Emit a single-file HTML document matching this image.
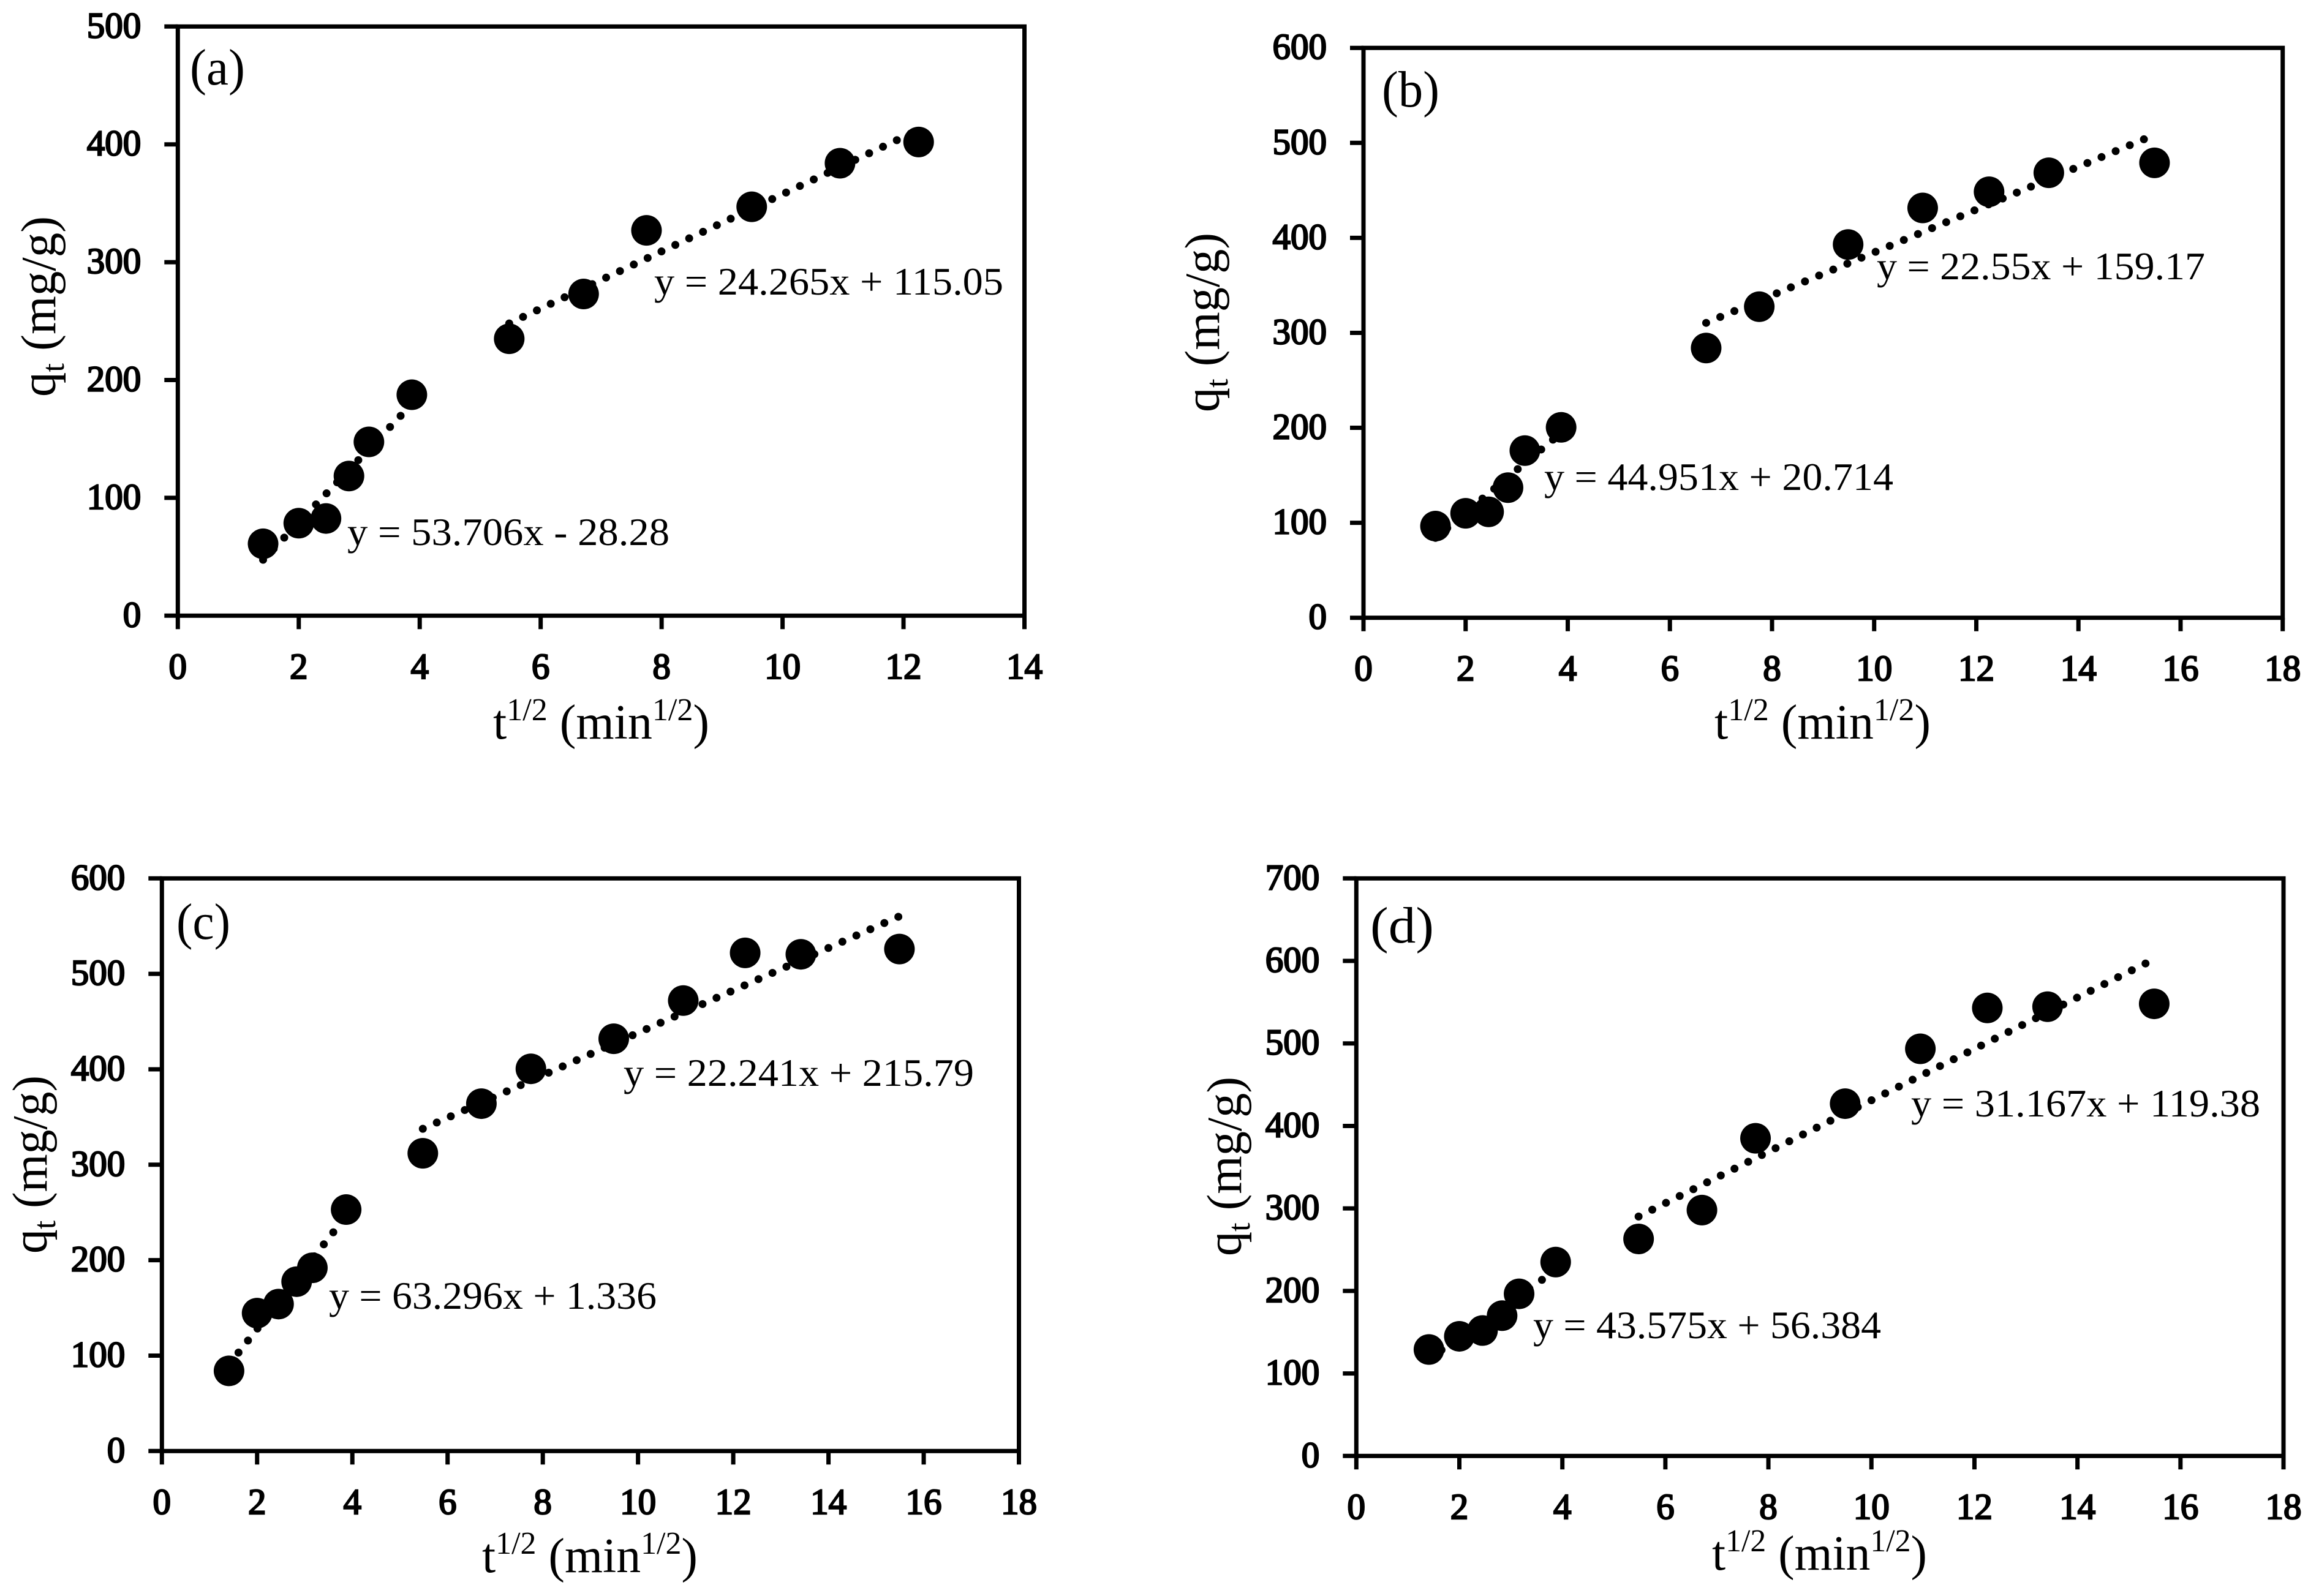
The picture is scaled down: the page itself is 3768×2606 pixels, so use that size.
<!DOCTYPE html>
<html lang="en">
<head>
<meta charset="utf-8">
<title>Intraparticle diffusion plots</title>
<style>
html,body{margin:0;padding:0;background:#fff;}
svg{display:block;}
text{font-family:"Liberation Serif",serif;fill:#000;}
.eq{font-size:64px;}
.tag{font-size:84px;}
.title{font-size:80px;}
.tick{font-size:59px;stroke:#000;stroke-width:2.4px;}
</style>
</head>
<body>
<svg id="figure" xmlns="http://www.w3.org/2000/svg" width="3768" height="2606" viewBox="0 0 3768 2606">
<rect x="0" y="0" width="3768" height="2606" fill="#fff"/>

<g id="panel-a">
  <text class="tag" x="310" y="138" textLength="90" lengthAdjust="spacingAndGlyphs">(a)</text>
  <text class="eq" x="567" y="890" textLength="526" lengthAdjust="spacingAndGlyphs">y = 53.706x - 28.28</text>
  <text class="eq" x="1068" y="481" textLength="570" lengthAdjust="spacingAndGlyphs">y = 24.265x + 115.05</text>
  <text class="title" x="805" y="1206" textLength="353" lengthAdjust="spacingAndGlyphs">t<tspan dy="-30" font-size="52">1/2</tspan><tspan dy="30"> (min</tspan><tspan dy="-30" font-size="52">1/2</tspan><tspan dy="30">)</tspan></text>
  <text class="title" transform="rotate(-90 90 648)" x="90" y="648" textLength="295" lengthAdjust="spacingAndGlyphs">q<tspan dy="14" font-size="52">t</tspan><tspan dy="-14"> (mg/g)</tspan></text>
</g>

<g id="panel-b">
  <text class="tag" x="2256" y="174" textLength="94" lengthAdjust="spacingAndGlyphs">(b)</text>
  <text class="eq" x="2521" y="800" textLength="570" lengthAdjust="spacingAndGlyphs">y = 44.951x + 20.714</text>
  <text class="eq" x="3064" y="456" textLength="536" lengthAdjust="spacingAndGlyphs">y = 22.55x + 159.17</text>
  <text class="title" x="2799" y="1206" textLength="353" lengthAdjust="spacingAndGlyphs">t<tspan dy="-30" font-size="52">1/2</tspan><tspan dy="30"> (min</tspan><tspan dy="-30" font-size="52">1/2</tspan><tspan dy="30">)</tspan></text>
  <text class="title" transform="rotate(-90 1990 673)" x="1990" y="673" textLength="293" lengthAdjust="spacingAndGlyphs">q<tspan dy="14" font-size="52">t</tspan><tspan dy="-14"> (mg/g)</tspan></text>
</g>

<g id="panel-c">
  <text class="tag" x="288" y="1533" textLength="88" lengthAdjust="spacingAndGlyphs">(c)</text>
  <text class="eq" x="537" y="2137" textLength="535" lengthAdjust="spacingAndGlyphs">y = 63.296x + 1.336</text>
  <text class="eq" x="1018" y="1773" textLength="572" lengthAdjust="spacingAndGlyphs">y = 22.241x + 215.79</text>
  <text class="title" x="787" y="2567" textLength="352" lengthAdjust="spacingAndGlyphs">t<tspan dy="-30" font-size="52">1/2</tspan><tspan dy="30"> (min</tspan><tspan dy="-30" font-size="52">1/2</tspan><tspan dy="30">)</tspan></text>
  <text class="title" transform="rotate(-90 76 2047)" x="76" y="2047" textLength="291" lengthAdjust="spacingAndGlyphs">q<tspan dy="14" font-size="52">t</tspan><tspan dy="-14"> (mg/g)</tspan></text>
</g>

<g id="panel-d">
  <text class="tag" x="2237" y="1539" textLength="104" lengthAdjust="spacingAndGlyphs">(d)</text>
  <text class="eq" x="2503" y="2185" textLength="568" lengthAdjust="spacingAndGlyphs">y = 43.575x + 56.384</text>
  <text class="eq" x="3120" y="1823" textLength="570" lengthAdjust="spacingAndGlyphs">y = 31.167x + 119.38</text>
  <text class="title" x="2795" y="2563" textLength="351" lengthAdjust="spacingAndGlyphs">t<tspan dy="-30" font-size="52">1/2</tspan><tspan dy="30"> (min</tspan><tspan dy="-30" font-size="52">1/2</tspan><tspan dy="30">)</tspan></text>
  <text class="title" transform="rotate(-90 2026 2051)" x="2026" y="2051" textLength="293" lengthAdjust="spacingAndGlyphs">q<tspan dy="14" font-size="52">t</tspan><tspan dy="-14"> (mg/g)</tspan></text>
</g>
</svg>

<script>
// ---- Data ----
const timeA = [1.41, 2, 2.45, 2.83, 3.16, 3.87, 5.48, 6.71, 7.75, 9.49, 10.95, 12.25];
const uptakeA = [61, 78.5, 82.5, 118.5, 147.5, 187.5, 235, 273, 327, 347, 384, 402];
const trendSlopesA = [53.706, 24.265];
const trendInterceptsA = [-28.28, 115.05];
const trendStartsA = [1.41, 5.48];
const trendEndsA = [3.87, 12.25];
const xTickLabelsA = [0, 2, 4, 6, 8, 10, 12, 14];
const yTickLabelsA = [0, 100, 200, 300, 400, 500];

const timeB = [1.41, 2, 2.45, 2.83, 3.16, 3.87, 6.71, 7.75, 9.49, 10.95, 12.25, 13.42, 15.49];
const uptakeB = [96.5, 110, 111.5, 137, 176, 200.5, 284, 327.5, 393, 431.5, 448.5, 468.5, 479];
const trendSlopesB = [44.951, 22.55];
const trendInterceptsB = [20.714, 159.17];
const trendStartsB = [1.41, 6.71];
const trendEndsB = [3.87, 15.49];
const xTickLabelsB = [0, 2, 4, 6, 8, 10, 12, 14, 16, 18];
const yTickLabelsB = [0, 100, 200, 300, 400, 500, 600];

const timeC = [1.41, 2, 2.45, 2.83, 3.16, 3.87, 5.48, 6.71, 7.75, 9.49, 10.95, 12.25, 13.42, 15.49];
const uptakeC = [84, 144.5, 154, 177.5, 192, 253, 312, 364, 400.5, 432, 472, 522, 520.5, 526];
const trendSlopesC = [63.296, 22.241];
const trendInterceptsC = [1.336, 215.79];
const trendStartsC = [1.41, 5.48];
const trendEndsC = [3.87, 15.49];
const xTickLabelsC = [0, 2, 4, 6, 8, 10, 12, 14, 16, 18];
const yTickLabelsC = [0, 100, 200, 300, 400, 500, 600];

const timeD = [1.41, 2, 2.45, 2.83, 3.16, 3.87, 5.48, 6.71, 7.75, 9.49, 10.95, 12.25, 13.42, 15.49];
const uptakeD = [129, 145, 152, 170, 196.5, 235, 263, 298, 385, 427, 493.5, 543, 544.5, 548];
const trendSlopesD = [43.575, 31.167];
const trendInterceptsD = [56.384, 119.38];
const trendStartsD = [1.41, 5.48];
const trendEndsD = [3.87, 15.49];
const xTickLabelsD = [0, 2, 4, 6, 8, 10, 12, 14, 16, 18];
const yTickLabelsD = [0, 100, 200, 300, 400, 500, 600, 700];

// ---- Drawing ----
const NS = 'http://www.w3.org/2000/svg';
function make(tag, attrs) {
  const node = document.createElementNS(NS, tag);
  for (const k in attrs) node.setAttribute(k, attrs[k]);
  return node;
}

function drawPanel(id, box, xTicks, yTicks, xs, ys, slopes, intercepts, starts, ends) {
  const root = document.getElementById('panel-' + id);
  const xMax = xTicks[xTicks.length - 1];
  const yMax = yTicks[yTicks.length - 1];
  const sx = v => box.left + (v / xMax) * (box.right - box.left);
  const sy = v => box.bottom - (v / yMax) * (box.bottom - box.top);
  const AXIS_W = 7, TICK = 22;

  const frame = make('rect', {x: box.left, y: box.top, width: box.right - box.left, height: box.bottom - box.top, fill: 'none', stroke: '#000', 'stroke-width': AXIS_W});
  
  
  root.appendChild(frame);

  xTicks.forEach(v => {
    const t = make('line', {x1: sx(v), x2: sx(v), y1: box.bottom, y2: box.bottom + TICK, stroke: '#000', 'stroke-width': AXIS_W});
    
    
    root.appendChild(t);
    const l = make('text', {class: 'tick', x: sx(v), y: box.bottom + 102.5, 'text-anchor': 'middle'});
    l.textContent = v;
    
    
    root.appendChild(l);
  });

  yTicks.forEach(v => {
    const t = make('line', {x1: box.left - TICK, x2: box.left, y1: sy(v), y2: sy(v), stroke: '#000', 'stroke-width': AXIS_W});
    
    
    root.appendChild(t);
    const l = make('text', {class: 'tick', x: box.left - 60, y: sy(v) + 18, 'text-anchor': 'end'});
    l.textContent = v;
    
    
    root.appendChild(l);
  });

  slopes.forEach((m, i) => {
    const x0 = starts[i], x1 = ends[i];
    const line = make('line', {
      x1: sx(x0), y1: sy(m * x0 + intercepts[i]),
      x2: sx(x1), y2: sy(m * x1 + intercepts[i]),
      stroke: '#000', 'stroke-width': 13, 'stroke-linecap': 'round', 'stroke-dasharray': '0 25'
    });
    
    
    root.appendChild(line);
  });

  xs.forEach((x, i) => {
    const c = make('circle', {cx: sx(x), cy: sy(ys[i]), r: 25, fill: '#000'});
    
    
    root.appendChild(c);
  });
}

drawPanel('a', {left: 290.3, right: 1672.5, top: 43.3, bottom: 1005.3}, xTickLabelsA, yTickLabelsA, timeA, uptakeA, trendSlopesA, trendInterceptsA, trendStartsA, trendEndsA);
drawPanel('b', {left: 2226, right: 3726.7, top: 78.2, bottom: 1008.7}, xTickLabelsB, yTickLabelsB, timeB, uptakeB, trendSlopesB, trendInterceptsB, trendStartsB, trendEndsB);
drawPanel('c', {left: 264.3, right: 1663.5, top: 1434.3, bottom: 2369.3}, xTickLabelsC, yTickLabelsC, timeC, uptakeC, trendSlopesC, trendInterceptsC, trendStartsC, trendEndsC);
drawPanel('d', {left: 2214.3, right: 3728, top: 1434.3, bottom: 2377.3}, xTickLabelsD, yTickLabelsD, timeD, uptakeD, trendSlopesD, trendInterceptsD, trendStartsD, trendEndsD);
</script>
</body>
</html>
